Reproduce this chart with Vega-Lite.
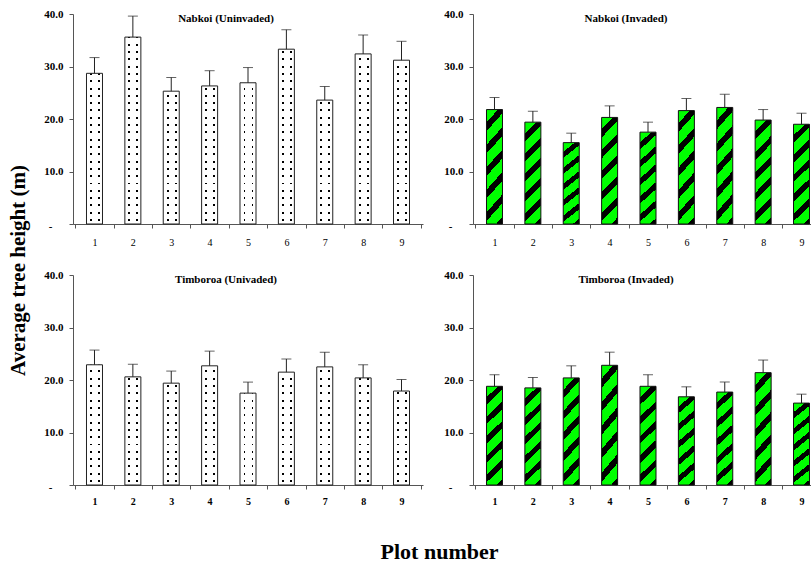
{
  "$schema": "https://vega.github.io/schema/vega-lite/v6.json",
  "background": "white",
  "padding": {"left": 7, "top": 8, "right": -12, "bottom": 0},
  "data": {"values": [
    {"site": "Nabkoi", "status": "Uninvaded", "plot": 1, "height": 28.7, "upper": 31.7},
    {"site": "Nabkoi", "status": "Uninvaded", "plot": 2, "height": 35.6, "upper": 39.6},
    {"site": "Nabkoi", "status": "Uninvaded", "plot": 3, "height": 25.3, "upper": 27.9},
    {"site": "Nabkoi", "status": "Uninvaded", "plot": 4, "height": 26.3, "upper": 29.2},
    {"site": "Nabkoi", "status": "Uninvaded", "plot": 5, "height": 26.9, "upper": 29.8},
    {"site": "Nabkoi", "status": "Uninvaded", "plot": 6, "height": 33.3, "upper": 37.0},
    {"site": "Nabkoi", "status": "Uninvaded", "plot": 7, "height": 23.6, "upper": 26.2},
    {"site": "Nabkoi", "status": "Uninvaded", "plot": 8, "height": 32.4, "upper": 36.0},
    {"site": "Nabkoi", "status": "Uninvaded", "plot": 9, "height": 31.2, "upper": 34.8},
    {"site": "Nabkoi", "status": "Invaded", "plot": 1, "height": 21.8, "upper": 24.1},
    {"site": "Nabkoi", "status": "Invaded", "plot": 2, "height": 19.4, "upper": 21.5},
    {"site": "Nabkoi", "status": "Invaded", "plot": 3, "height": 15.5, "upper": 17.3},
    {"site": "Nabkoi", "status": "Invaded", "plot": 4, "height": 20.3, "upper": 22.5},
    {"site": "Nabkoi", "status": "Invaded", "plot": 5, "height": 17.5, "upper": 19.4},
    {"site": "Nabkoi", "status": "Invaded", "plot": 6, "height": 21.6, "upper": 23.9},
    {"site": "Nabkoi", "status": "Invaded", "plot": 7, "height": 22.2, "upper": 24.7},
    {"site": "Nabkoi", "status": "Invaded", "plot": 8, "height": 19.8, "upper": 21.8},
    {"site": "Nabkoi", "status": "Invaded", "plot": 9, "height": 19.0, "upper": 21.1},
    {"site": "Timboroa", "status": "Uninvaded", "plot": 1, "height": 22.9, "upper": 25.7},
    {"site": "Timboroa", "status": "Uninvaded", "plot": 2, "height": 20.6, "upper": 23.0},
    {"site": "Timboroa", "status": "Uninvaded", "plot": 3, "height": 19.4, "upper": 21.7},
    {"site": "Timboroa", "status": "Uninvaded", "plot": 4, "height": 22.7, "upper": 25.5},
    {"site": "Timboroa", "status": "Uninvaded", "plot": 5, "height": 17.5, "upper": 19.6},
    {"site": "Timboroa", "status": "Uninvaded", "plot": 6, "height": 21.5, "upper": 24.0},
    {"site": "Timboroa", "status": "Uninvaded", "plot": 7, "height": 22.5, "upper": 25.3},
    {"site": "Timboroa", "status": "Uninvaded", "plot": 8, "height": 20.4, "upper": 22.9},
    {"site": "Timboroa", "status": "Uninvaded", "plot": 9, "height": 17.9, "upper": 20.1},
    {"site": "Timboroa", "status": "Invaded", "plot": 1, "height": 18.8, "upper": 21.0},
    {"site": "Timboroa", "status": "Invaded", "plot": 2, "height": 18.5, "upper": 20.5},
    {"site": "Timboroa", "status": "Invaded", "plot": 3, "height": 20.4, "upper": 22.7},
    {"site": "Timboroa", "status": "Invaded", "plot": 4, "height": 22.8, "upper": 25.3},
    {"site": "Timboroa", "status": "Invaded", "plot": 5, "height": 18.8, "upper": 21.0},
    {"site": "Timboroa", "status": "Invaded", "plot": 6, "height": 16.8, "upper": 18.7},
    {"site": "Timboroa", "status": "Invaded", "plot": 7, "height": 17.7, "upper": 19.6},
    {"site": "Timboroa", "status": "Invaded", "plot": 8, "height": 21.4, "upper": 23.8},
    {"site": "Timboroa", "status": "Invaded", "plot": 9, "height": 15.6, "upper": 17.3}
  ]},
  "columns": 2,
  "spacing": {"row": 51, "column": 50},
  "bounds": "flush",
  "concat": [
    {
      "width": 350, "height": 210,
      "title": {"text": "Nabkoi (Uninvaded)"},
      "transform": [{"filter": "datum.site == 'Nabkoi' && datum.status == 'Uninvaded'"}],
      "encoding": {
        "x": {"field": "plot", "type": "ordinal", "scale": {"paddingInner": 0, "paddingOuter": 0.06},
              "axis": {"title": null, "labelAngle": 0, "tickBand": "extent", "labelPadding": 9, "labelFontWeight": "normal"}}
      },
      "layer": [
        {"mark": {"type": "bar", "width": {"band": 0.417}, "stroke": null,
                  "fill": {"gradient": "linear", "x1": 0, "y1": 0, "x2": 1, "y2": 0, "stops": [
                    {"offset": 0, "color": "#ffffff"}, {"offset": 0.22, "color": "#ffffff"}, {"offset": 0.22, "color": "#000000"}, {"offset": 0.34, "color": "#000000"}, {"offset": 0.34, "color": "#ffffff"},
                    {"offset": 0.72, "color": "#ffffff"}, {"offset": 0.72, "color": "#000000"}, {"offset": 0.84, "color": "#000000"}, {"offset": 0.84, "color": "#ffffff"}, {"offset": 1, "color": "#ffffff"}]}},
         "encoding": {"y": {"field": "height", "type": "quantitative", "scale": {"domain": [0, 40], "nice": false},
                            "axis": {"title": "Average tree height (m)", "titleX": -55, "titleY": 256, "titleAngle": -90, "titleAlign": "center", "titleBaseline": "middle", "titleFontSize": 21, "titleFontWeight": "bold", "titleFont": "Liberation Serif", "titleColor": "#000",
                                     "values": [0, 10, 20, 30, 40], "labelExpr": "datum.value == 0 ? '-' : format(datum.value, '.1f')", "labelFontWeight": "bold", "labelFontSize": 11,
                                     "labelPadding": {"condition": {"test": "datum.value == 0", "value": 17}, "value": 6},
                                     "labelOffset": {"condition": {"test": "datum.value == 0", "value": 2}, "value": 0}}}}},
        {"mark": {"type": "bar", "width": {"band": 0.417}, "stroke": null,
                  "fill": {"gradient": "linear", "x1": 0, "y1": 1, "x2": 0, "y2": 0, "stops": [
                    {"offset": 0, "color": "#ffffff"},
                    {"offset": 0.015, "color": "#ffffff"}, {"offset": 0.015, "color": "rgba(255,255,255,0)"}, {"offset": 0.025, "color": "rgba(255,255,255,0)"}, {"offset": 0.025, "color": "#ffffff"},
                    {"offset": 0.0516, "color": "#ffffff"}, {"offset": 0.0516, "color": "rgba(255,255,255,0)"}, {"offset": 0.0616, "color": "rgba(255,255,255,0)"}, {"offset": 0.0616, "color": "#ffffff"},
                    {"offset": 0.0882, "color": "#ffffff"}, {"offset": 0.0882, "color": "rgba(255,255,255,0)"}, {"offset": 0.0982, "color": "rgba(255,255,255,0)"}, {"offset": 0.0982, "color": "#ffffff"},
                    {"offset": 0.1248, "color": "#ffffff"}, {"offset": 0.1248, "color": "rgba(255,255,255,0)"}, {"offset": 0.1348, "color": "rgba(255,255,255,0)"}, {"offset": 0.1348, "color": "#ffffff"},
                    {"offset": 0.1614, "color": "#ffffff"}, {"offset": 0.1614, "color": "rgba(255,255,255,0)"}, {"offset": 0.1714, "color": "rgba(255,255,255,0)"}, {"offset": 0.1714, "color": "#ffffff"},
                    {"offset": 0.198, "color": "#ffffff"}, {"offset": 0.198, "color": "rgba(255,255,255,0)"}, {"offset": 0.208, "color": "rgba(255,255,255,0)"}, {"offset": 0.208, "color": "#ffffff"},
                    {"offset": 0.2346, "color": "#ffffff"}, {"offset": 0.2346, "color": "rgba(255,255,255,0)"}, {"offset": 0.2446, "color": "rgba(255,255,255,0)"}, {"offset": 0.2446, "color": "#ffffff"},
                    {"offset": 0.2712, "color": "#ffffff"}, {"offset": 0.2712, "color": "rgba(255,255,255,0)"}, {"offset": 0.2812, "color": "rgba(255,255,255,0)"}, {"offset": 0.2812, "color": "#ffffff"},
                    {"offset": 0.3078, "color": "#ffffff"}, {"offset": 0.3078, "color": "rgba(255,255,255,0)"}, {"offset": 0.3178, "color": "rgba(255,255,255,0)"}, {"offset": 0.3178, "color": "#ffffff"},
                    {"offset": 0.3444, "color": "#ffffff"}, {"offset": 0.3444, "color": "rgba(255,255,255,0)"}, {"offset": 0.3544, "color": "rgba(255,255,255,0)"}, {"offset": 0.3544, "color": "#ffffff"},
                    {"offset": 0.381, "color": "#ffffff"}, {"offset": 0.381, "color": "rgba(255,255,255,0)"}, {"offset": 0.391, "color": "rgba(255,255,255,0)"}, {"offset": 0.391, "color": "#ffffff"},
                    {"offset": 0.4176, "color": "#ffffff"}, {"offset": 0.4176, "color": "rgba(255,255,255,0)"}, {"offset": 0.4276, "color": "rgba(255,255,255,0)"}, {"offset": 0.4276, "color": "#ffffff"},
                    {"offset": 0.4542, "color": "#ffffff"}, {"offset": 0.4542, "color": "rgba(255,255,255,0)"}, {"offset": 0.4642, "color": "rgba(255,255,255,0)"}, {"offset": 0.4642, "color": "#ffffff"},
                    {"offset": 0.4908, "color": "#ffffff"}, {"offset": 0.4908, "color": "rgba(255,255,255,0)"}, {"offset": 0.5008, "color": "rgba(255,255,255,0)"}, {"offset": 0.5008, "color": "#ffffff"},
                    {"offset": 0.5274, "color": "#ffffff"}, {"offset": 0.5274, "color": "rgba(255,255,255,0)"}, {"offset": 0.5374, "color": "rgba(255,255,255,0)"}, {"offset": 0.5374, "color": "#ffffff"},
                    {"offset": 0.564, "color": "#ffffff"}, {"offset": 0.564, "color": "rgba(255,255,255,0)"}, {"offset": 0.574, "color": "rgba(255,255,255,0)"}, {"offset": 0.574, "color": "#ffffff"},
                    {"offset": 0.6006, "color": "#ffffff"}, {"offset": 0.6006, "color": "rgba(255,255,255,0)"}, {"offset": 0.6106, "color": "rgba(255,255,255,0)"}, {"offset": 0.6106, "color": "#ffffff"},
                    {"offset": 0.6372, "color": "#ffffff"}, {"offset": 0.6372, "color": "rgba(255,255,255,0)"}, {"offset": 0.6472, "color": "rgba(255,255,255,0)"}, {"offset": 0.6472, "color": "#ffffff"},
                    {"offset": 0.6738, "color": "#ffffff"}, {"offset": 0.6738, "color": "rgba(255,255,255,0)"}, {"offset": 0.6838, "color": "rgba(255,255,255,0)"}, {"offset": 0.6838, "color": "#ffffff"},
                    {"offset": 0.7104, "color": "#ffffff"}, {"offset": 0.7104, "color": "rgba(255,255,255,0)"}, {"offset": 0.7204, "color": "rgba(255,255,255,0)"}, {"offset": 0.7204, "color": "#ffffff"},
                    {"offset": 0.747, "color": "#ffffff"}, {"offset": 0.747, "color": "rgba(255,255,255,0)"}, {"offset": 0.757, "color": "rgba(255,255,255,0)"}, {"offset": 0.757, "color": "#ffffff"},
                    {"offset": 0.7836, "color": "#ffffff"}, {"offset": 0.7836, "color": "rgba(255,255,255,0)"}, {"offset": 0.7936, "color": "rgba(255,255,255,0)"}, {"offset": 0.7936, "color": "#ffffff"},
                    {"offset": 0.8202, "color": "#ffffff"}, {"offset": 0.8202, "color": "rgba(255,255,255,0)"}, {"offset": 0.8302, "color": "rgba(255,255,255,0)"}, {"offset": 0.8302, "color": "#ffffff"},
                    {"offset": 0.8568, "color": "#ffffff"}, {"offset": 0.8568, "color": "rgba(255,255,255,0)"}, {"offset": 0.8668, "color": "rgba(255,255,255,0)"}, {"offset": 0.8668, "color": "#ffffff"},
                    {"offset": 0.8934, "color": "#ffffff"}, {"offset": 0.8934, "color": "rgba(255,255,255,0)"}, {"offset": 0.9034, "color": "rgba(255,255,255,0)"}, {"offset": 0.9034, "color": "#ffffff"},
                    {"offset": 0.93, "color": "#ffffff"}, {"offset": 0.93, "color": "rgba(255,255,255,0)"}, {"offset": 0.94, "color": "rgba(255,255,255,0)"}, {"offset": 0.94, "color": "#ffffff"},
                    {"offset": 0.9666, "color": "#ffffff"}, {"offset": 0.9666, "color": "rgba(255,255,255,0)"}, {"offset": 0.9766, "color": "rgba(255,255,255,0)"}, {"offset": 0.9766, "color": "#ffffff"},
                    {"offset": 1, "color": "#ffffff"}]}},
         "encoding": {"y": {"datum": 0, "type": "quantitative"}, "y2": {"datum": 38}}},
        {"mark": {"type": "bar", "width": {"band": 0.417}, "fill": null, "fillOpacity": 0, "stroke": "#222", "strokeWidth": 1},
         "encoding": {"y": {"field": "height", "type": "quantitative"}}},
        {"mark": {"type": "rule", "color": "#222", "strokeWidth": 1},
         "encoding": {"y": {"field": "height", "type": "quantitative"}, "y2": {"field": "upper"}}},
        {"mark": {"type": "tick", "color": "#222", "thickness": 1, "size": 10},
         "encoding": {"y": {"field": "upper", "type": "quantitative"}}}
      ]
    },
    {
      "width": 350, "height": 210,
      "title": {"text": "Nabkoi  (Invaded)"},
      "transform": [{"filter": "datum.site == 'Nabkoi' && datum.status == 'Invaded'"}],
      "encoding": {
        "x": {"field": "plot", "type": "ordinal", "scale": {"paddingInner": 0, "paddingOuter": 0.06},
              "axis": {"title": null, "labelAngle": 0, "tickBand": "extent", "labelPadding": 9, "labelFontWeight": "normal"}}
      },
      "layer": [
        {"mark": {"type": "bar", "width": {"band": 0.417}, "stroke": "#111", "strokeWidth": 1,
                  "fill": {"gradient": "linear", "x1": 0, "y1": 0, "x2": 0.18, "y2": 1.15, "stops": [
                    {"offset": 0, "color": "#00ff00"}, {"offset": 0.095, "color": "#00ff00"}, {"offset": 0.095, "color": "#000000"}, {"offset": 0.16, "color": "#000000"}, {"offset": 0.16, "color": "#00ff00"},
                    {"offset": 0.2617, "color": "#00ff00"}, {"offset": 0.2617, "color": "#000000"}, {"offset": 0.3267, "color": "#000000"}, {"offset": 0.3267, "color": "#00ff00"},
                    {"offset": 0.4283, "color": "#00ff00"}, {"offset": 0.4283, "color": "#000000"}, {"offset": 0.4933, "color": "#000000"}, {"offset": 0.4933, "color": "#00ff00"},
                    {"offset": 0.595, "color": "#00ff00"}, {"offset": 0.595, "color": "#000000"}, {"offset": 0.66, "color": "#000000"}, {"offset": 0.66, "color": "#00ff00"},
                    {"offset": 0.7617, "color": "#00ff00"}, {"offset": 0.7617, "color": "#000000"}, {"offset": 0.8267, "color": "#000000"}, {"offset": 0.8267, "color": "#00ff00"},
                    {"offset": 0.9283, "color": "#00ff00"}, {"offset": 0.9283, "color": "#000000"}, {"offset": 0.9933, "color": "#000000"}, {"offset": 0.9933, "color": "#00ff00"},
                    {"offset": 1, "color": "#00ff00"}]}},
         "encoding": {"y": {"field": "height", "type": "quantitative", "scale": {"domain": [0, 40], "nice": false},
                            "axis": {"title": null, "values": [0, 10, 20, 30, 40], "labelExpr": "datum.value == 0 ? '-' : format(datum.value, '.1f')", "labelFontWeight": "bold", "labelFontSize": 11,
                                     "labelPadding": {"condition": {"test": "datum.value == 0", "value": 17}, "value": 6},
                                     "labelOffset": {"condition": {"test": "datum.value == 0", "value": 2}, "value": 0}}}}},
        {"mark": {"type": "rule", "color": "#222", "strokeWidth": 1},
         "encoding": {"y": {"field": "height", "type": "quantitative"}, "y2": {"field": "upper"}}},
        {"mark": {"type": "tick", "color": "#222", "thickness": 1, "size": 10},
         "encoding": {"y": {"field": "upper", "type": "quantitative"}}}
      ]
    },
    {
      "width": 350, "height": 210,
      "title": {"text": "Timboroa (Univaded)"},
      "transform": [{"filter": "datum.site == 'Timboroa' && datum.status == 'Uninvaded'"}],
      "encoding": {
        "x": {"field": "plot", "type": "ordinal", "scale": {"paddingInner": 0, "paddingOuter": 0.06},
              "axis": {"title": "Plot number", "titleX": 366, "titleY": 66, "titleAlign": "center", "titleBaseline": "middle", "titleFontSize": 22, "titleFontWeight": "bold", "titleFont": "Liberation Serif", "titleColor": "#000",
                       "labelAngle": 0, "tickBand": "extent", "labelPadding": 7, "labelFontWeight": "bold"}}
      },
      "layer": [
        {"mark": {"type": "bar", "width": {"band": 0.417}, "stroke": null,
                  "fill": {"gradient": "linear", "x1": 0, "y1": 0, "x2": 1, "y2": 0, "stops": [
                    {"offset": 0, "color": "#ffffff"}, {"offset": 0.22, "color": "#ffffff"}, {"offset": 0.22, "color": "#000000"}, {"offset": 0.34, "color": "#000000"}, {"offset": 0.34, "color": "#ffffff"},
                    {"offset": 0.72, "color": "#ffffff"}, {"offset": 0.72, "color": "#000000"}, {"offset": 0.84, "color": "#000000"}, {"offset": 0.84, "color": "#ffffff"}, {"offset": 1, "color": "#ffffff"}]}},
         "encoding": {"y": {"field": "height", "type": "quantitative", "scale": {"domain": [0, 40], "nice": false},
                            "axis": {"title": null, "values": [0, 10, 20, 30, 40], "labelExpr": "datum.value == 0 ? '-' : format(datum.value, '.1f')", "labelFontWeight": "bold", "labelFontSize": 11,
                                     "labelPadding": {"condition": {"test": "datum.value == 0", "value": 17}, "value": 6},
                                     "labelOffset": {"condition": {"test": "datum.value == 0", "value": 2}, "value": 0}}}}},
        {"mark": {"type": "bar", "width": {"band": 0.417}, "stroke": null,
                  "fill": {"gradient": "linear", "x1": 0, "y1": 1, "x2": 0, "y2": 0, "stops": [
                    {"offset": 0, "color": "#ffffff"},
                    {"offset": 0.015, "color": "#ffffff"}, {"offset": 0.015, "color": "rgba(255,255,255,0)"}, {"offset": 0.025, "color": "rgba(255,255,255,0)"}, {"offset": 0.025, "color": "#ffffff"},
                    {"offset": 0.0516, "color": "#ffffff"}, {"offset": 0.0516, "color": "rgba(255,255,255,0)"}, {"offset": 0.0616, "color": "rgba(255,255,255,0)"}, {"offset": 0.0616, "color": "#ffffff"},
                    {"offset": 0.0882, "color": "#ffffff"}, {"offset": 0.0882, "color": "rgba(255,255,255,0)"}, {"offset": 0.0982, "color": "rgba(255,255,255,0)"}, {"offset": 0.0982, "color": "#ffffff"},
                    {"offset": 0.1248, "color": "#ffffff"}, {"offset": 0.1248, "color": "rgba(255,255,255,0)"}, {"offset": 0.1348, "color": "rgba(255,255,255,0)"}, {"offset": 0.1348, "color": "#ffffff"},
                    {"offset": 0.1614, "color": "#ffffff"}, {"offset": 0.1614, "color": "rgba(255,255,255,0)"}, {"offset": 0.1714, "color": "rgba(255,255,255,0)"}, {"offset": 0.1714, "color": "#ffffff"},
                    {"offset": 0.198, "color": "#ffffff"}, {"offset": 0.198, "color": "rgba(255,255,255,0)"}, {"offset": 0.208, "color": "rgba(255,255,255,0)"}, {"offset": 0.208, "color": "#ffffff"},
                    {"offset": 0.2346, "color": "#ffffff"}, {"offset": 0.2346, "color": "rgba(255,255,255,0)"}, {"offset": 0.2446, "color": "rgba(255,255,255,0)"}, {"offset": 0.2446, "color": "#ffffff"},
                    {"offset": 0.2712, "color": "#ffffff"}, {"offset": 0.2712, "color": "rgba(255,255,255,0)"}, {"offset": 0.2812, "color": "rgba(255,255,255,0)"}, {"offset": 0.2812, "color": "#ffffff"},
                    {"offset": 0.3078, "color": "#ffffff"}, {"offset": 0.3078, "color": "rgba(255,255,255,0)"}, {"offset": 0.3178, "color": "rgba(255,255,255,0)"}, {"offset": 0.3178, "color": "#ffffff"},
                    {"offset": 0.3444, "color": "#ffffff"}, {"offset": 0.3444, "color": "rgba(255,255,255,0)"}, {"offset": 0.3544, "color": "rgba(255,255,255,0)"}, {"offset": 0.3544, "color": "#ffffff"},
                    {"offset": 0.381, "color": "#ffffff"}, {"offset": 0.381, "color": "rgba(255,255,255,0)"}, {"offset": 0.391, "color": "rgba(255,255,255,0)"}, {"offset": 0.391, "color": "#ffffff"},
                    {"offset": 0.4176, "color": "#ffffff"}, {"offset": 0.4176, "color": "rgba(255,255,255,0)"}, {"offset": 0.4276, "color": "rgba(255,255,255,0)"}, {"offset": 0.4276, "color": "#ffffff"},
                    {"offset": 0.4542, "color": "#ffffff"}, {"offset": 0.4542, "color": "rgba(255,255,255,0)"}, {"offset": 0.4642, "color": "rgba(255,255,255,0)"}, {"offset": 0.4642, "color": "#ffffff"},
                    {"offset": 0.4908, "color": "#ffffff"}, {"offset": 0.4908, "color": "rgba(255,255,255,0)"}, {"offset": 0.5008, "color": "rgba(255,255,255,0)"}, {"offset": 0.5008, "color": "#ffffff"},
                    {"offset": 0.5274, "color": "#ffffff"}, {"offset": 0.5274, "color": "rgba(255,255,255,0)"}, {"offset": 0.5374, "color": "rgba(255,255,255,0)"}, {"offset": 0.5374, "color": "#ffffff"},
                    {"offset": 0.564, "color": "#ffffff"}, {"offset": 0.564, "color": "rgba(255,255,255,0)"}, {"offset": 0.574, "color": "rgba(255,255,255,0)"}, {"offset": 0.574, "color": "#ffffff"},
                    {"offset": 0.6006, "color": "#ffffff"}, {"offset": 0.6006, "color": "rgba(255,255,255,0)"}, {"offset": 0.6106, "color": "rgba(255,255,255,0)"}, {"offset": 0.6106, "color": "#ffffff"},
                    {"offset": 0.6372, "color": "#ffffff"}, {"offset": 0.6372, "color": "rgba(255,255,255,0)"}, {"offset": 0.6472, "color": "rgba(255,255,255,0)"}, {"offset": 0.6472, "color": "#ffffff"},
                    {"offset": 0.6738, "color": "#ffffff"}, {"offset": 0.6738, "color": "rgba(255,255,255,0)"}, {"offset": 0.6838, "color": "rgba(255,255,255,0)"}, {"offset": 0.6838, "color": "#ffffff"},
                    {"offset": 0.7104, "color": "#ffffff"}, {"offset": 0.7104, "color": "rgba(255,255,255,0)"}, {"offset": 0.7204, "color": "rgba(255,255,255,0)"}, {"offset": 0.7204, "color": "#ffffff"},
                    {"offset": 0.747, "color": "#ffffff"}, {"offset": 0.747, "color": "rgba(255,255,255,0)"}, {"offset": 0.757, "color": "rgba(255,255,255,0)"}, {"offset": 0.757, "color": "#ffffff"},
                    {"offset": 0.7836, "color": "#ffffff"}, {"offset": 0.7836, "color": "rgba(255,255,255,0)"}, {"offset": 0.7936, "color": "rgba(255,255,255,0)"}, {"offset": 0.7936, "color": "#ffffff"},
                    {"offset": 0.8202, "color": "#ffffff"}, {"offset": 0.8202, "color": "rgba(255,255,255,0)"}, {"offset": 0.8302, "color": "rgba(255,255,255,0)"}, {"offset": 0.8302, "color": "#ffffff"},
                    {"offset": 0.8568, "color": "#ffffff"}, {"offset": 0.8568, "color": "rgba(255,255,255,0)"}, {"offset": 0.8668, "color": "rgba(255,255,255,0)"}, {"offset": 0.8668, "color": "#ffffff"},
                    {"offset": 0.8934, "color": "#ffffff"}, {"offset": 0.8934, "color": "rgba(255,255,255,0)"}, {"offset": 0.9034, "color": "rgba(255,255,255,0)"}, {"offset": 0.9034, "color": "#ffffff"},
                    {"offset": 0.93, "color": "#ffffff"}, {"offset": 0.93, "color": "rgba(255,255,255,0)"}, {"offset": 0.94, "color": "rgba(255,255,255,0)"}, {"offset": 0.94, "color": "#ffffff"},
                    {"offset": 0.9666, "color": "#ffffff"}, {"offset": 0.9666, "color": "rgba(255,255,255,0)"}, {"offset": 0.9766, "color": "rgba(255,255,255,0)"}, {"offset": 0.9766, "color": "#ffffff"},
                    {"offset": 1, "color": "#ffffff"}]}},
         "encoding": {"y": {"datum": 0, "type": "quantitative"}, "y2": {"datum": 38}}},
        {"mark": {"type": "bar", "width": {"band": 0.417}, "fill": null, "fillOpacity": 0, "stroke": "#222", "strokeWidth": 1},
         "encoding": {"y": {"field": "height", "type": "quantitative"}}},
        {"mark": {"type": "rule", "color": "#222", "strokeWidth": 1},
         "encoding": {"y": {"field": "height", "type": "quantitative"}, "y2": {"field": "upper"}}},
        {"mark": {"type": "tick", "color": "#222", "thickness": 1, "size": 10},
         "encoding": {"y": {"field": "upper", "type": "quantitative"}}}
      ]
    },
    {
      "width": 350, "height": 210,
      "title": {"text": "Timboroa (Invaded)"},
      "transform": [{"filter": "datum.site == 'Timboroa' && datum.status == 'Invaded'"}],
      "encoding": {
        "x": {"field": "plot", "type": "ordinal", "scale": {"paddingInner": 0, "paddingOuter": 0.06},
              "axis": {"title": null, "labelAngle": 0, "tickBand": "extent", "labelPadding": 7, "labelFontWeight": "bold"}}
      },
      "layer": [
        {"mark": {"type": "bar", "width": {"band": 0.417}, "stroke": "#111", "strokeWidth": 1,
                  "fill": {"gradient": "linear", "x1": 0, "y1": 0, "x2": 0.18, "y2": 1.15, "stops": [
                    {"offset": 0, "color": "#00ff00"}, {"offset": 0.095, "color": "#00ff00"}, {"offset": 0.095, "color": "#000000"}, {"offset": 0.16, "color": "#000000"}, {"offset": 0.16, "color": "#00ff00"},
                    {"offset": 0.2617, "color": "#00ff00"}, {"offset": 0.2617, "color": "#000000"}, {"offset": 0.3267, "color": "#000000"}, {"offset": 0.3267, "color": "#00ff00"},
                    {"offset": 0.4283, "color": "#00ff00"}, {"offset": 0.4283, "color": "#000000"}, {"offset": 0.4933, "color": "#000000"}, {"offset": 0.4933, "color": "#00ff00"},
                    {"offset": 0.595, "color": "#00ff00"}, {"offset": 0.595, "color": "#000000"}, {"offset": 0.66, "color": "#000000"}, {"offset": 0.66, "color": "#00ff00"},
                    {"offset": 0.7617, "color": "#00ff00"}, {"offset": 0.7617, "color": "#000000"}, {"offset": 0.8267, "color": "#000000"}, {"offset": 0.8267, "color": "#00ff00"},
                    {"offset": 0.9283, "color": "#00ff00"}, {"offset": 0.9283, "color": "#000000"}, {"offset": 0.9933, "color": "#000000"}, {"offset": 0.9933, "color": "#00ff00"},
                    {"offset": 1, "color": "#00ff00"}]}},
         "encoding": {"y": {"field": "height", "type": "quantitative", "scale": {"domain": [0, 40], "nice": false},
                            "axis": {"title": null, "values": [0, 10, 20, 30, 40], "labelExpr": "datum.value == 0 ? '-' : format(datum.value, '.1f')", "labelFontWeight": "bold", "labelFontSize": 11,
                                     "labelPadding": {"condition": {"test": "datum.value == 0", "value": 17}, "value": 6},
                                     "labelOffset": {"condition": {"test": "datum.value == 0", "value": 2}, "value": 0}}}}},
        {"mark": {"type": "rule", "color": "#222", "strokeWidth": 1},
         "encoding": {"y": {"field": "height", "type": "quantitative"}, "y2": {"field": "upper"}}},
        {"mark": {"type": "tick", "color": "#222", "thickness": 1, "size": 10},
         "encoding": {"y": {"field": "upper", "type": "quantitative"}}}
      ]
    }
  ],
  "config": {
    "view": {"stroke": null},
    "font": "Liberation Serif",
    "axis": {"domainColor": "#555", "tickColor": "#555", "labelColor": "#000", "labelFont": "Liberation Serif", "labelFontSize": 10, "grid": false, "tickSize": 4, "domainWidth": 1, "tickWidth": 1},
    "title": {"font": "Liberation Serif", "fontSize": 11, "fontWeight": "bold", "color": "#000", "frame": "group", "anchor": "middle", "offset": -5.5, "dy": 10.5, "baseline": "middle", "dx": -22}
  }
}
